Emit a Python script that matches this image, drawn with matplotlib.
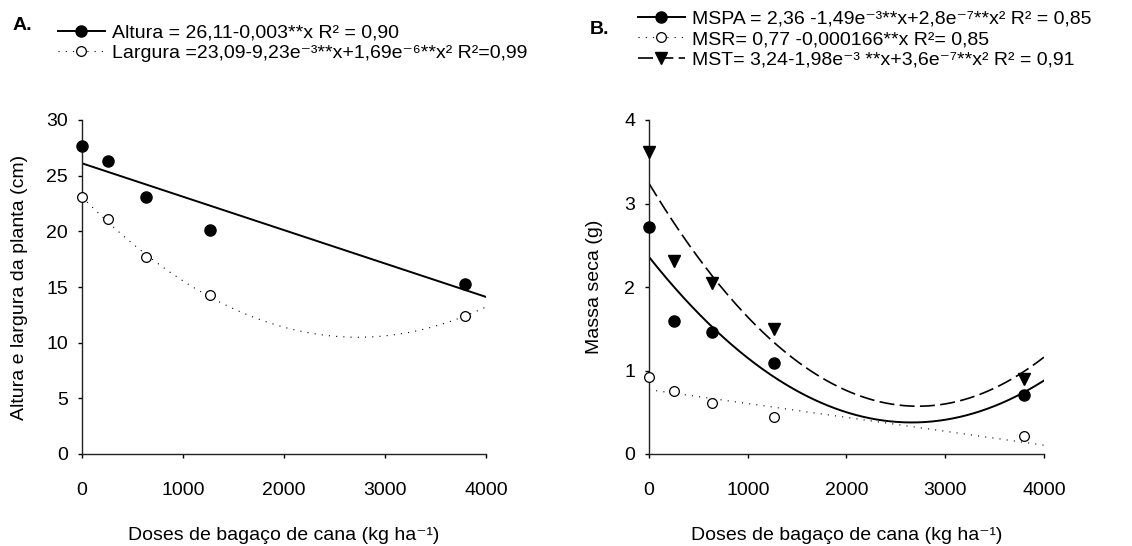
import numpy as np
import matplotlib
matplotlib.use("Agg")
import matplotlib.pyplot as plt
from matplotlib.lines import Line2D

plt.rcParams['font.family'] = ['Liberation Sans', 'DejaVu Sans']

# ---- data ----
doses = [0, 253, 633, 1266, 3797]
altura = [27.7, 26.3, 23.05, 20.1, 15.3]
largura = [23.1, 21.1, 17.7, 14.3, 12.4]
mspa = [2.72, 1.59, 1.46, 1.09, 0.71]
msr = [0.92, 0.75, 0.61, 0.44, 0.21]
mst = [3.62, 2.31, 2.05, 1.50, 0.90]

# regression coefficients (a, b, c) for a + b*x + c*x^2
coef_altura = (26.11, -0.003, 0.0)
coef_largura = (23.09, -9.23e-3, 1.69e-6)
coef_mspa = (2.36, -1.49e-3, 2.8e-7)
coef_msr = (0.77, -0.000166, 0.0)
coef_mst = (3.24, -1.96e-3, 3.6e-7)

lab_altura = "Altura = 26,11-0,003**x R² = 0,90"
lab_largura = "Largura =23,09-9,23e⁻³**x+1,69e⁻⁶**x² R²=0,99"
lab_mspa = "MSPA = 2,36 -1,49e⁻³**x+2,8e⁻⁷**x² R² = 0,85"
lab_msr = "MSR= 0,77 -0,000166**x R²= 0,85"
lab_mst = "MST= 3,24-1,98e⁻³ **x+3,6e⁻⁷**x² R² = 0,91"

xlabel = "Doses de bagaço de cana (kg ha⁻¹)"

W, H = 1132, 546
fig = plt.figure(figsize=(W/100, H/100), dpi=100)

def fig_rect(l, t, r, b):
    return [l/W, 1 - b/H, (r-l)/W, (b-t)/H]

axA = fig.add_axes(fig_rect(82, 120, 486, 454))
axB = fig.add_axes(fig_rect(649, 120, 1044, 454))

xs = np.linspace(0, 4000, 400)
def poly(c):
    return c[0] + c[1]*xs + c[2]*xs**2

FS = 14
solid_kw = dict(color='black', lw=1.4, ls='-')
dot_kw = dict(color='black', lw=0.8, dashes=(1, 5.5))
dash_kw = dict(color='black', lw=1.2, dashes=(9, 3.2))

# Panel A
axA.plot(xs, poly(coef_altura), **solid_kw)
axA.plot(xs, poly(coef_largura), **dot_kw)
axA.plot(doses, altura, 'o', color='black', ms=8, ls='none', clip_on=False, zorder=5)
axA.plot(doses, largura, 'o', mfc='white', mec='black', mew=0.9, ms=7, ls='none', clip_on=False, zorder=5)
axA.set_xlim(0, 4000)
axA.set_ylim(0, 30)
axA.set_yticks(range(0, 31, 5))
axA.set_ylabel("Altura e largura da planta (cm)", fontsize=FS)
axA.yaxis.set_label_coords(-0.134, 0.5)

# Panel B
axB.plot(xs, poly(coef_mspa), **solid_kw)
axB.plot(xs, poly(coef_msr), **dot_kw)
axB.plot(xs, poly(coef_mst), **dash_kw)
axB.plot(doses, mspa, 'o', color='black', ms=8, ls='none', clip_on=False, zorder=5)
axB.plot(doses, msr, 'o', mfc='white', mec='black', mew=0.9, ms=7, ls='none', clip_on=False, zorder=5)
axB.plot(doses, mst, 'v', color='black', ms=8.5, ls='none', clip_on=False, zorder=5)
axB.set_xlim(0, 4000)
axB.set_ylim(0, 4)
axB.set_yticks(range(0, 5))
axB.set_ylabel("Massa seca (g)", fontsize=FS)
axB.yaxis.set_label_coords(-0.116, 0.5)

for ax in (axA, axB):
    ax.set_xticks(range(0, 4001, 1000))
    for s in ('top', 'right'):
        ax.spines[s].set_visible(False)
    for s in ('left', 'bottom'):
        ax.spines[s].set_linewidth(1.0)
        ax.spines[s].set_color('#222222')
    ax.tick_params(axis='x', direction='out', length=3, width=1, pad=17, labelsize=FS)
    ax.tick_params(axis='y', direction='out', length=3, width=1, pad=7, labelsize=FS)
    ax.set_xlabel(xlabel, fontsize=FS)
    ax.xaxis.label.set_va('center')
    ax.xaxis.set_label_coords(0.5, (454 - 536) / 334)

# Legends
hA = [Line2D([], [], marker='o', ms=8, **solid_kw),
      Line2D([], [], marker='o', mfc='white', mec='black', mew=0.9, ms=7, **dot_kw)]
fig.legend(hA, [lab_altura, lab_largura], loc='upper left',
           bbox_to_anchor=(58/W, 1 - 24/H), frameon=False, fontsize=FS,
           borderpad=0, borderaxespad=0, handlelength=2.4, handletextpad=0.4,
           labelspacing=0.15)

hB = [Line2D([], [], marker='o', ms=8, **solid_kw),
      Line2D([], [], marker='o', mfc='white', mec='black', mew=0.9, ms=7, **dot_kw),
      Line2D([], [], marker='v', ms=8.5, **dash_kw)]
fig.legend(hB, [lab_mspa, lab_msr, lab_mst], loc='upper left',
           bbox_to_anchor=(638/W, 1 - 10/H), frameon=False, fontsize=FS,
           borderpad=0, borderaxespad=0, handlelength=2.4, handletextpad=0.4,
           labelspacing=0.15)

fig.text(13/W, 1 - 25/H, "A.", fontsize=14, fontweight='bold', va='center', ha='left')
fig.text(590/W, 1 - 30/H, "B.", fontsize=14, fontweight='bold', va='center', ha='left')

fig.savefig("out.png", dpi=100)
